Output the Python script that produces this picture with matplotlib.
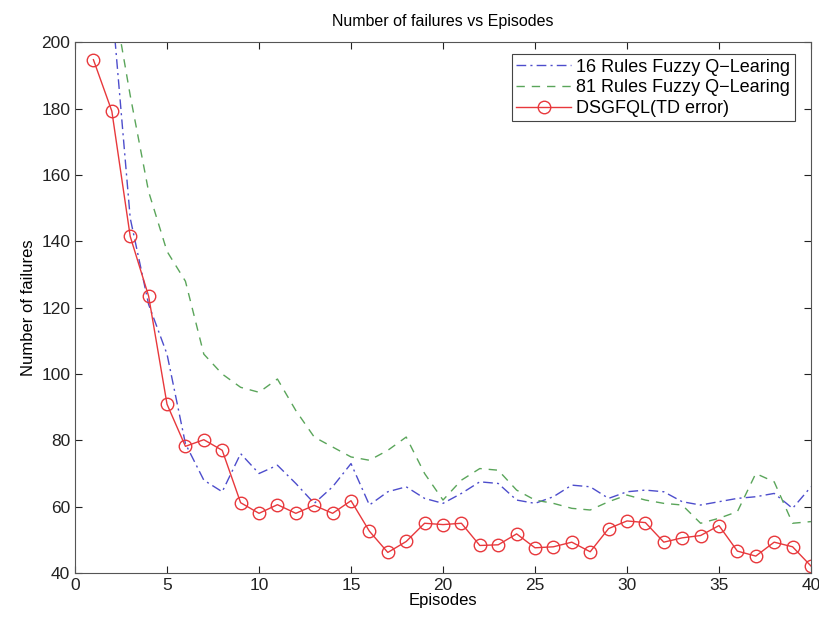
import matplotlib
matplotlib.use("Agg")
import matplotlib.pyplot as plt
import numpy as np

# episodes 1..40
episodes = np.arange(1, 41)

# 16 rules fuzzy Q-learning (dash-dot, blue); first points run off the top
rules16 = [300, 212, 147, 121, 106, 79, 68, 64.5, 76, 70,
           72.5, 67, 61, 66, 73, 60.5, 64.5, 66, 62.5, 61,
           64, 67.5, 67, 62, 61, 63, 66.5, 66, 62.5, 64.5,
           65, 64.5, 61.5, 60.5, 61.5, 62.5, 63, 64, 59.5, 66]

# 81 rules fuzzy Q-learning (dashed, green)
rules81 = [300, 216, 184, 155, 137, 128, 106, 100, 96, 94.5,
           98.5, 89, 81, 78, 75, 74, 77, 81, 70, 62,
           68, 71.5, 71, 65, 62, 61, 59.5, 59, 61.5, 63.5,
           62, 61, 60.5, 55, 56.5, 58.5, 70, 67.5, 55, 55.5]

# DSGFQL (TD error) (solid red with circles)
dsgfql = [194.8, 179.3, 141.5, 123.5, 90.9, 78.2, 80.2, 77, 61.2, 58,
          60.6, 58, 60.4, 58, 61.8, 52.6, 46.2, 49.5, 55, 54.6,
          55, 48.3, 48.5, 51.8, 47.6, 47.9, 49.3, 46.4, 53.4, 55.7,
          55.2, 49.3, 50.6, 51.3, 54.3, 46.6, 45.1, 49.3, 47.9, 42.1]

legend_labels = ["16 Rules Fuzzy Q\u2212Learing",
                 "81 Rules Fuzzy Q\u2212Learing",
                 "DSGFQL(TD error)"]

plt.rcParams["font.family"] = ["Liberation Sans", "DejaVu Sans"]
plt.rcParams["font.size"] = 12

fig = plt.figure(figsize=(8.2, 6.21), dpi=100)
ax = fig.add_axes([0.0915, 0.0773, 0.8975, 0.8543])

ax.plot(episodes, rules16, linestyle=(0, (7, 3, 1.5, 3)), color="#4d4dcc",
        linewidth=1.0, label=legend_labels[0])
ax.plot(episodes, rules81, linestyle=(0, (6, 5)), color="#5aa55a", linewidth=1.0,
        label=legend_labels[1])
ax.plot(episodes, dsgfql, linestyle="-", color="#e8383c", linewidth=1.0,
        marker="o", markersize=9, markerfacecolor="none",
        markeredgecolor="#e8383c", markeredgewidth=1.0,
        label=legend_labels[2])

ax.set_xlim(0, 40)
ax.set_ylim(40, 200)
ax.set_xticks(np.arange(0, 41, 5))
ax.set_yticks(np.arange(40, 201, 20))
ax.tick_params(direction="in", top=True, right=True, length=5, width=0.8,
               labelsize=12.5, colors="#222222")
for sp in ax.spines.values():
    sp.set_color("#555555")
    sp.set_linewidth(0.8)

ax.set_title("Number of failures vs Episodes", fontsize=11.5, pad=12)
ax.set_xlabel("Episodes", fontsize=12, labelpad=0)
ax.set_ylabel("Number of failures", fontsize=12, labelpad=4)

leg = ax.legend(loc="upper right", fontsize=13, fancybox=False,
                framealpha=1, edgecolor="#444444", borderpad=0.25,
                labelspacing=0.2, handlelength=3.0, handletextpad=0.3,
                bbox_to_anchor=(0.99, 0.995))
leg.get_frame().set_linewidth(0.8)

fig.savefig("out.png", dpi=100)
